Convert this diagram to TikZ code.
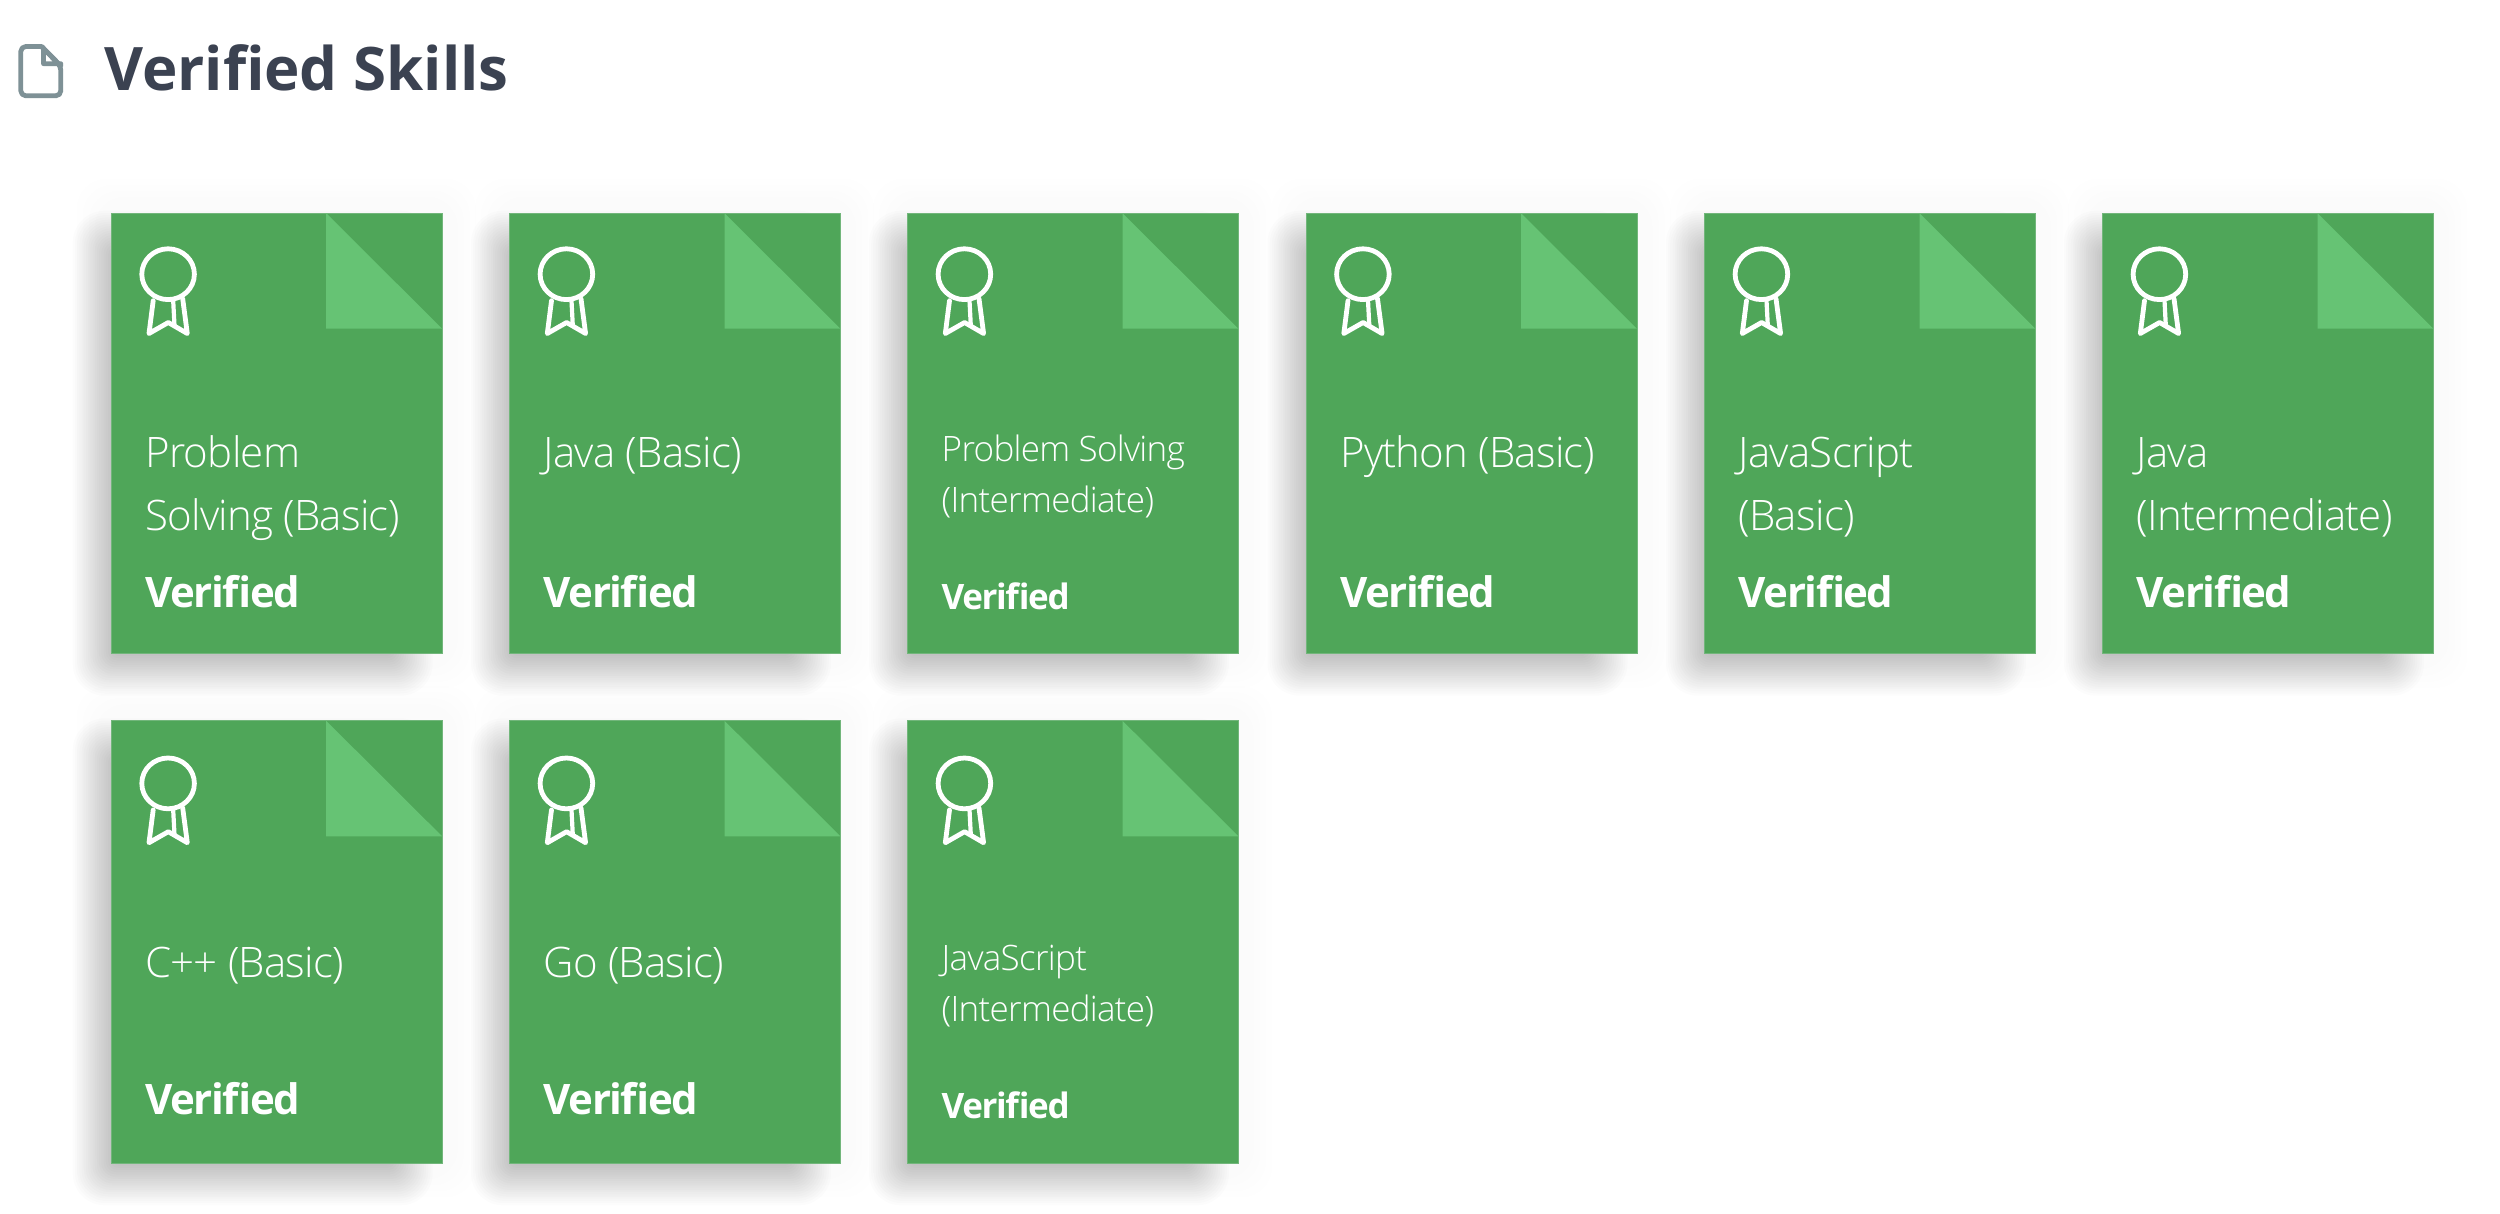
\documentclass[tikz,border=0pt]{standalone}
\usepackage{fontspec}
\usetikzlibrary{calc}
\setmainfont{Open Sans}
\newfontfamily\oslight{Open Sans Light}
\definecolor{cardgreen}{HTML}{4FA659}
\definecolor{foldgreen}{HTML}{66C374}
\definecolor{edgegreen}{HTML}{72B67B}
\definecolor{titleink}{HTML}{3B4251}
\definecolor{iconink}{HTML}{7E9196}
\tikzset{
  cardbox/.style={fill=cardgreen,draw=edgegreen,line width=0.6pt},
  foldtri/.style={fill=foldgreen,draw=none},
  medal/.style={draw=white,line width=4.8pt,line join=round,line cap=round},
  bigtxt/.style={anchor=base west,inner sep=0pt,text=white,font=\oslight\fontsize{42}{42}\selectfont\addfontfeature{LetterSpace=-1.8}},
  smalltxt/.style={anchor=base west,inner sep=0pt,text=white,font=\oslight\fontsize{35}{35}\selectfont\addfontfeature{LetterSpace=-2}},
  bigver/.style={anchor=base west,inner sep=0pt,text=white,font=\bfseries\fontsize{42}{42}\selectfont\addfontfeature{LetterSpace=-3.5}},
  smallver/.style={anchor=base west,inner sep=0pt,text=white,font=\bfseries\fontsize{35}{35}\selectfont\addfontfeature{LetterSpace=-4}},
}
\newcommand{\rowone}{\def\rowy{212.7}\def\cardh{441}\def\ico{0}\def\txo{1}\def\smv{1}\def\bvo{1}}
\newcommand{\rowtwo}{\def\rowy{720.3}\def\cardh{443}\def\ico{1.6}\def\txo{3}\def\smv{2.5}\def\bvo{0}}
% card frame, with shadow, fold and medal; #1 name, #2 x
\newcommand{\cardframe}[2]{%
  \begin{scope}[shift={(#2,\rowy)}]
    \foreach \k in {0,...,3}{
      \pgfmathsetmacro{\dd}{34-\k*6}
      \fill[black,opacity=0.004,rounded corners=30pt]
        (-\dd,-\dd) rectangle (331+\dd,\cardh+\dd);
    }
    \foreach \k in {0,...,20}{
      \pgfmathsetmacro{\dd}{22-\k*2.2}
      \pgfmathsetmacro{\rr}{32-\k*1.4}
      \fill[black,opacity=0.011,rounded corners=\rr pt]
        (-16-\dd,20-\dd) rectangle (300+\dd,\cardh+20+\dd);
    }
    \fill[cardbox] (0.3,0.3) rectangle (331.7,\cardh-0.3);
    \node[inner sep=0pt,minimum size=0pt] (#1) at (166,\cardh/2) {};
    \fill[foldtri] (215.5,0.5) -- (215.5,116) -- (331.4,116) -- cycle;
    \begin{scope}[yshift=-\ico pt]
      \draw[medal] (57.4,61.5) ellipse (26.3 and 25.4);
      \draw[medal] (42.5,88) -- (38.3,120.8) -- (57.6,109.8) -- (76.6,120.8) -- (72,86);
      \draw[medal,line width=4.2pt] (62.5,88) -- (63.8,113);
    \end{scope}
  \end{scope}}
\newcommand{\cardtwo}[4]{% name x line1 line2
  \cardframe{#1}{#2}
  \node[bigtxt] (#1a) at ($(#2,\rowy)+(34.5,254+\txo)$) {#3};
  \node[bigtxt] (#1b) at ($(#2,\rowy)+(34.5,317+\txo)$) {#4};
  \node[bigver] (#1v) at ($(#2,\rowy)+(34.5,394+\bvo)$) {Verified};}
\newcommand{\cardone}[3]{% name x line
  \cardframe{#1}{#2}
  \node[bigtxt] (#1a) at ($(#2,\rowy)+(34.5,254+\txo)$) {#3};
  \node[bigver] (#1v) at ($(#2,\rowy)+(34.5,394+\bvo)$) {Verified};}
\newcommand{\cardsmall}[4]{% name x line1 line2
  \cardframe{#1}{#2}
  \node[smalltxt] (#1a) at ($(#2,\rowy)+(34.5,247.5+\smv)$) {#3};
  \node[smalltxt] (#1b) at ($(#2,\rowy)+(34.5,299+\smv)$) {#4};
  \node[smallver] (#1v) at ($(#2,\rowy)+(34.5,395.5+\smv)$) {Verified};}
\begin{document}
\begin{tikzpicture}[x=1pt,y=-1pt]
\useasboundingbox (0,0) rectangle (2500,1214);
\fill[white] (0,0) rectangle (2500,1214);
% header icon
\draw[iconink,line width=4.8pt,line join=round,rounded corners=5pt]
  (41.5,46.5) -- (20.8,46.5) -- (20.8,95.8) -- (60.8,95.8) -- (60.8,66) -- (41.5,46.5);
\draw[iconink,line width=4.8pt,line join=round] (41.5,46.5) -- (43.5,48) -- (43.5,63.7) -- (60.8,63.7) -- (60.8,66) -- cycle;
\node[anchor=base west,inner sep=0pt,text=titleink,font=\bfseries\fontsize{60}{60}\selectfont] (title) at (104,91) {Verified Skills};
\rowone
\cardtwo{c1}{110.7}{Problem}{Solving (Basic)}
\cardone{c2}{509}{Java (Basic)}
\cardsmall{c3}{907}{Problem Solving}{(Intermediate)}
\cardone{c4}{1305.5}{Python (Basic)}
\cardtwo{c5}{1704}{JavaScript}{(Basic)}
\cardtwo{c6}{2102}{Java}{(Intermediate)}
\rowtwo
\cardone{c7}{110.7}{C++ (Basic)}
\cardone{c8}{509}{Go (Basic)}
\cardsmall{c9}{907}{JavaScript}{(Intermediate)}
\end{tikzpicture}
\end{document}
